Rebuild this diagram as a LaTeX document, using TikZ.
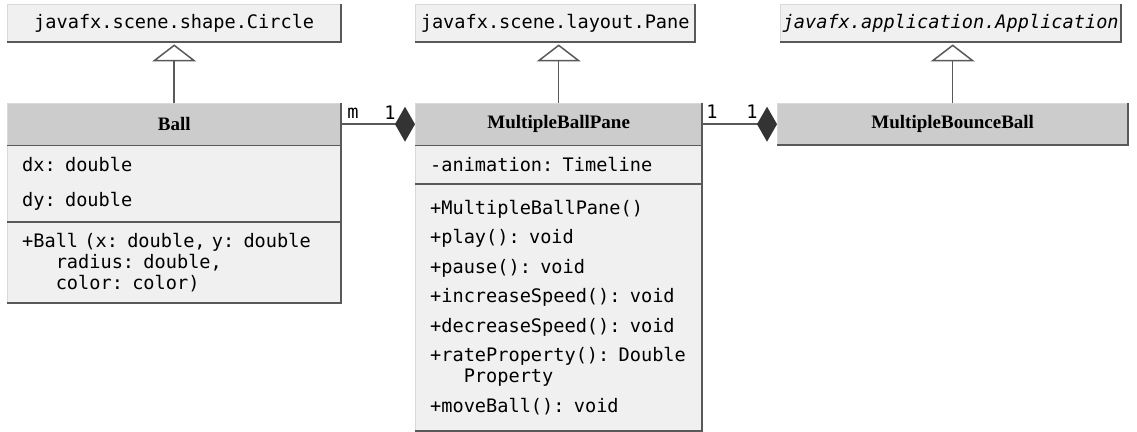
\documentclass[tikz,border=0pt]{standalone}
\usepackage{fontspec}
\setmainfont{Liberation Serif}
\setmonofont{DejaVu Sans Mono}
\usetikzlibrary{arrows.meta,positioning}

\begin{document}
\begin{tikzpicture}
[x=1pt,y=-1pt,
% Styles
class name/.style={fill=headcolor,inner sep=0pt,anchor=north west,font=\bfseries\fontsize{19}{21}\selectfont},
compartment/.style={fill=bodycolor,inner xsep=15pt,inner ysep=0pt,align=left,font=\ttfamily\fontsize{18.6}{21}\selectfont},
parent class/.style={fill=bodycolor,inner sep=0pt,anchor=north west,font=\ttfamily\fontsize{18.6}{21}\selectfont},
box edge/.style={draw=edgecolor,line width=2pt},
faint edge/.style={draw=black!15,line width=1pt},
divider/.style={draw=edgecolor,line width=1.5pt},
inherits/.style={draw=edgecolor,line width=1.5pt,shorten >=2pt,-{Triangle[open,width=44pt,length=17pt,line width=1.5pt]}},
composed/.style={draw=edgecolor,line width=1.5pt,-{Diamond[width=35pt,length=20pt,color=diamondcolor]}},
multiplicity/.style={font=\ttfamily\fontsize{18.6}{21}\selectfont,inner sep=0pt}]
% Local definitions
\def\wrapindent{\phantom{xxx}}
% Colors
\colorlet{headcolor}{black!20}
\colorlet{bodycolor}{black!6}
\colorlet{edgecolor}{black!65}
\colorlet{diamondcolor}{black!80}

% The graphic
\useasboundingbox (0,0) rectangle (1137,431);

% parent classes
\node[parent class,minimum width=334pt,minimum height=38pt] (circle) at (7,4) {javafx.scene.shape.Circle};
\node[parent class,minimum width=280pt,minimum height=38pt] (pane) at (415,4) {javafx.scene.layout.Pane};
\node[parent class,minimum width=341pt,minimum height=38pt] (app) at (780,4) {\itshape javafx.application.Application};

% Ball
\node[class name,minimum width=334pt,minimum height=42pt] (ball) at (7,103) {Ball};
\node[compartment,text width=304pt,minimum height=76pt,below=0pt of ball] (ball attrs)
{dx: double\\[14pt]dy: double};
\node[compartment,text width=304pt,minimum height=81pt,below=0pt of ball attrs] (ball methods)
{+Ball (x: double, y: double\\ \wrapindent radius: double,\\ \wrapindent color: color)};

% MultipleBallPane
\node[class name,minimum width=287pt,minimum height=42pt] (mbp) at (415,103) {MultipleBallPane};
\node[compartment,text width=257pt,minimum height=38pt,below=0pt of mbp] (mbp attrs)
{-animation: Timeline};
\node[compartment,text width=257pt,minimum height=247pt,below=0pt of mbp attrs] (mbp methods)
{+MultipleBallPane()\\[8.5pt]
+play(): void\\[8.5pt]
+pause(): void\\[8.5pt]
+increaseSpeed(): void\\[8.5pt]
+decreaseSpeed(): void\\[8.5pt]
+rateProperty(): Double\\
\wrapindent Property\\[8.5pt]
+moveBall(): void};

% MultipleBounceBall
\node[class name,minimum width=351pt,minimum height=42pt] (mbb) at (777,103) {MultipleBounceBall};

% box edges
\foreach \boxtop/\boxbot in {circle/circle,pane/pane,app/app,ball/ball methods,mbp/mbp methods,mbb/mbb}
{
\draw[faint edge] (\boxbot.south west) -- (\boxtop.north west) -- (\boxtop.north east);
\draw[box edge] (\boxtop.north east) -- (\boxbot.south east) -- (\boxbot.south west);
}
\foreach \part in {ball,ball attrs,mbp,mbp attrs}
\draw[divider] (\part.south west) -- (\part.south east);

% inheritance
\draw[inherits] (ball.north) -- (ball.north |- circle.south);
\draw[inherits] (mbp.north) -- (mbp.north |- pane.south);
\draw[inherits] (mbb.north) -- (mbb.north |- app.south);

% composition
\draw[composed] (ball.east) -- (mbp.west);
\node[multiplicity] (ball many) at (353,113) {m};
\node[multiplicity] (ball one) at (390,113) {1};
\draw[composed] (mbp.east) -- (mbb.west);
\node[multiplicity] (mbp one) at (712,112) {1};
\node[multiplicity] (mbb one) at (752,112) {1};
\end{tikzpicture}
\end{document}
